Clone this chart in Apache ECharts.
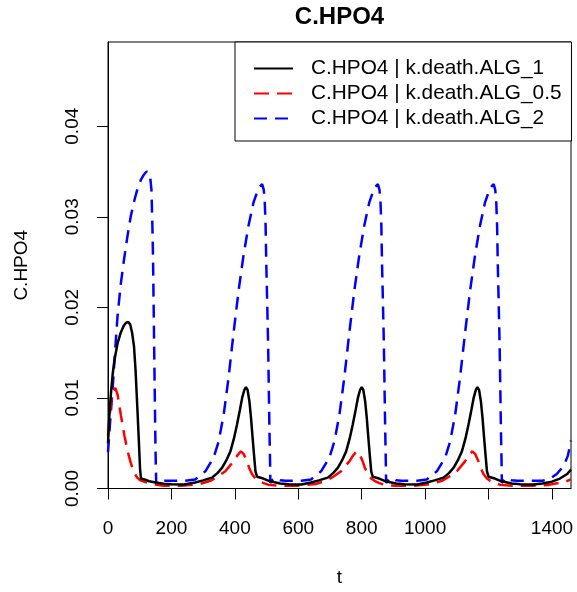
<!DOCTYPE html>
<html><head><meta charset="utf-8">
<script src="https://cdn.jsdelivr.net/npm/echarts@6/dist/echarts.min.js"></script>
<style>html,body{margin:0;padding:0;background:#fff}#c{width:577px;height:592px}</style>
</head><body><div id="c"></div><script>
const chartTitle = 'C.HPO4';
const xName = 't';
const yName = 'C.HPO4';
const seriesNames = ['C.HPO4 | k.death.ALG_1', 'C.HPO4 | k.death.ALG_0.5', 'C.HPO4 | k.death.ALG_2'];
const xTicks = [0, 200, 400, 600, 800, 1000, 1200, 1400];
const xLabels = [0, 200, 400, 600, 800, 1000, 1400];
const yTicks = [0, 0.01, 0.02, 0.03, 0.04];

// [t, value]
const black1 = [
[0,0.0050],[5,0.0085],[10,0.0108],[15,0.0127],[20,0.0141],[30,0.0160],[40,0.0172],[50,0.0180],[57,0.0183],[64,0.0184],[70,0.0181],[76,0.0172],[82,0.0157],[87,0.0130],[92,0.0093],[97,0.0055],[101,0.0022],[104,0.0011],[115,0.0010],[130,0.0008],[150,0.00066],[175,0.00052],[200,0.00047],[240,0.00045],[275,0.00066],
[300,0.0009],[328,0.0012],[345,0.0017],[360,0.0023],[373,0.0031],[386,0.0041],[397,0.0055],[407,0.0071],[416,0.0087],[423,0.0100],[430,0.0109],[435,0.0112],[440,0.0109],[446,0.0096],[451,0.0078],[456,0.0056],[461,0.0035],[465,0.0019],[470,0.0013],[490,0.0011],[507,0.00085],[525,0.0007],[543,0.00055],[570,0.00047],[610,0.00045],[640,0.00066],
[665,0.0009],[693,0.0012],[710,0.0017],[725,0.0023],[738,0.0031],[751,0.0041],[762,0.0055],[772,0.0071],[781,0.0087],[788,0.0100],[795,0.0109],[800,0.0112],[805,0.0109],[811,0.0096],[816,0.0078],[821,0.0056],[826,0.0035],[830,0.0019],[835,0.0013],[855,0.0011],[872,0.00085],[890,0.0007],[908,0.00055],[935,0.00047],[975,0.00045],[1005,0.00066],
[1030,0.0009],[1058,0.0012],[1075,0.0017],[1090,0.0023],[1103,0.0031],[1116,0.0041],[1127,0.0055],[1137,0.0071],[1146,0.0087],[1153,0.0100],[1160,0.0109],[1165,0.0112],[1170,0.0109],[1176,0.0096],[1181,0.0078],[1186,0.0056],[1191,0.0035],[1195,0.0019],[1200,0.0013],[1220,0.0011],[1237,0.00085],[1255,0.0007],[1273,0.00055],[1300,0.00047],[1340,0.00045],[1370,0.00055],[1400,0.00075],[1425,0.0011],[1448,0.0016],[1460,0.0021]
];
const red05 = [
[0,0.0058],[5,0.0080],[10,0.0096],[16,0.0107],[23,0.0111],[30,0.0104],[41,0.0080],[52,0.0058],[62,0.0041],[72,0.0028],[83,0.0017],[92,0.0012],[102,0.0009],[118,0.0007],[133,0.00055],[155,0.0004],[175,0.0003],[230,0.0003],[290,0.0005],
[323,0.00085],[345,0.0013],[370,0.0019],[384,0.0025],[396,0.0030],[409,0.0037],[419,0.0041],[428,0.0038],[438,0.0030],[446,0.0022],[454,0.0016],[465,0.0011],[475,0.00085],[491,0.0006],[507,0.0004],[544,0.0003],[600,0.0003],[655,0.0005],
[688,0.00085],[710,0.0013],[735,0.0019],[749,0.0025],[761,0.0030],[774,0.0037],[784,0.0041],[793,0.0038],[803,0.0030],[811,0.0022],[819,0.0016],[830,0.0011],[840,0.00085],[856,0.0006],[872,0.0004],[909,0.0003],[965,0.0003],[1020,0.0005],
[1053,0.00085],[1075,0.0013],[1100,0.0019],[1114,0.0025],[1126,0.0030],[1139,0.0037],[1149,0.0041],[1158,0.0038],[1168,0.0030],[1176,0.0022],[1184,0.0016],[1195,0.0011],[1205,0.00085],[1221,0.0006],[1237,0.0004],[1274,0.0003],[1340,0.0003],[1390,0.0004],[1420,0.0006],[1445,0.0008],[1460,0.0010]
];
const blue2 = [
[0,0.0040],[7,0.0075],[14,0.0107],[22,0.0150],[30,0.0190],[40,0.0225],[51,0.0254],[62,0.0280],[72,0.0301],[83,0.0318],[93,0.0331],[104,0.0341],[114,0.0347],[122,0.0350],[127,0.0351],[132,0.0347],[137,0.0330],[140,0.0290],[142,0.0254],[144,0.0200],[146,0.0144],[148,0.0090],[150,0.0040],[152,0.0005],[158,0.0008],[165,0.0009],[175,0.00085],[200,0.00085],[240,0.00085],
[275,0.0010],[307,0.0019],[333,0.0034],[349,0.0052],[365,0.0082],[380,0.0122],[396,0.0172],[412,0.0219],[428,0.0259],[443,0.0290],[459,0.0316],[475,0.0332],[486,0.0336],[491,0.0330],[494,0.0319],[497,0.0290],[499,0.0250],[502,0.0205],[505,0.0158],[507,0.0112],[509,0.0067],[511,0.0030],[512,0.0006],[520,0.0010],[528,0.0012],[543,0.0009],[560,0.00085],[610,0.00085],
[640,0.0010],[672,0.0019],[698,0.0034],[714,0.0052],[730,0.0082],[745,0.0122],[761,0.0172],[777,0.0219],[793,0.0259],[808,0.0290],[824,0.0316],[840,0.0332],[851,0.0336],[856,0.0330],[859,0.0319],[862,0.0290],[864,0.0250],[867,0.0205],[870,0.0158],[872,0.0112],[874,0.0067],[876,0.0030],[877,0.0006],[885,0.0010],[893,0.0012],[908,0.0009],[925,0.00085],[975,0.00085],
[1005,0.0010],[1037,0.0019],[1063,0.0034],[1079,0.0052],[1095,0.0082],[1110,0.0122],[1126,0.0172],[1142,0.0219],[1158,0.0259],[1173,0.0290],[1189,0.0316],[1205,0.0332],[1216,0.0336],[1221,0.0330],[1224,0.0319],[1227,0.0290],[1229,0.0250],[1232,0.0205],[1235,0.0158],[1237,0.0112],[1239,0.0067],[1241,0.0030],[1242,0.0006],[1250,0.0010],[1258,0.0012],[1273,0.0009],[1290,0.00085],[1370,0.00085],[1395,0.0011],[1415,0.0016],[1437,0.0025],[1450,0.0036],[1460,0.0053]
];

const F = '"Liberation Sans", Arial, Helvetica, sans-serif';
const chart = echarts.init(document.getElementById('c'), null, {renderer: 'canvas'});
const axisCol = '#000';
chart.setOption({
  animation: false,
  backgroundColor: '#fff',
  title: {
    text: chartTitle, left: 339.5, top: 5, padding: 0, textAlign: 'center',
    textStyle: {fontFamily: F, fontSize: 24, fontWeight: 'bold', color: '#000'}
  },
  legend: {
    data: seriesNames,
    orient: 'vertical',
    left: 235, top: 42,
    padding: [16, 10, 12, 18],
    itemWidth: 39, itemHeight: 14, itemGap: 4,
    backgroundColor: '#fff',
    borderColor: '#000', borderWidth: 1,
    itemStyle: {opacity: 0},
    textStyle: {fontFamily: F, fontSize: 20.8, color: '#000', padding: [0, 0, 0, 13]}
  },
  grid: {
    left: 108, top: 42, width: 463, height: 449,
    show: true, borderColor: axisCol, borderWidth: 1, backgroundColor: 'transparent'
  },
  xAxis: {
    type: 'value', min: 0, max: 1460,
    name: xName, nameLocation: 'middle', nameGap: 89,
    nameTextStyle: {fontFamily: F, fontSize: 19, color: '#000', verticalAlign: 'middle'},
    axisLine: {show: true, lineStyle: {color: axisCol, width: 1}},
    axisTick: {show: true, length: 11, lineStyle: {color: axisCol}, customValues: xTicks},
    axisLabel: {fontFamily: F, fontSize: 19, color: '#000', margin: 31, customValues: xLabels,
      formatter: v => String(v)},
    splitLine: {show: false}
  },
  yAxis: {
    type: 'value', min: 0, max: 0.0493,
    name: yName, nameLocation: 'middle', nameGap: 86,
    nameTextStyle: {fontFamily: F, fontSize: 19, color: '#000', verticalAlign: 'middle'},
    axisLine: {show: true, lineStyle: {color: axisCol, width: 1}},
    axisTick: {show: true, length: 11, lineStyle: {color: axisCol}, customValues: yTicks},
    axisLabel: {fontFamily: F, fontSize: 19, color: '#000', margin: 26, rotate: 90,
      customValues: yTicks, formatter: v => v.toFixed(2)},
    splitLine: {show: false}
  },
  series: [
    {name: seriesNames[0], type: 'line', data: black1, showSymbol: false, symbol: 'none',
     lineStyle: {color: '#000', width: 2.5, type: 'solid'}, itemStyle: {color: '#000'}, z: 3},
    {name: seriesNames[1], type: 'line', data: red05, showSymbol: false, symbol: 'none',
     lineStyle: {color: '#ff0000', width: 2.5, type: [15, 8]}, itemStyle: {color: '#ff0000'}, z: 2},
    {name: seriesNames[2], type: 'line', data: blue2, showSymbol: false, symbol: 'none',
     lineStyle: {color: '#0000ff', width: 2.5, type: [13, 8]}, itemStyle: {color: '#0000ff'}, z: 1}
  ]
});
</script></body></html>
